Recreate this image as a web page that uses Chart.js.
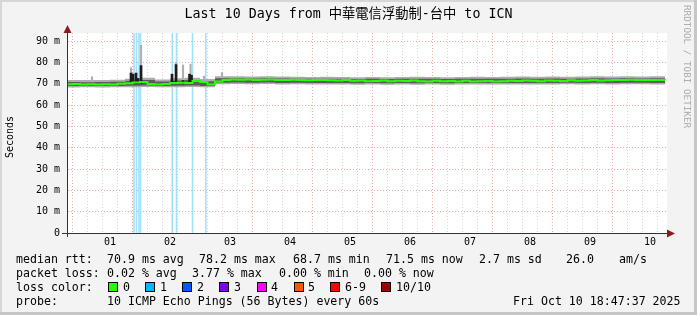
<!DOCTYPE html>
<html>
<head>
<meta charset="utf-8">
<script src="https://cdn.jsdelivr.net/npm/chart.js@4.4.1/dist/chart.umd.min.js"></script>
<style>
  body { margin: 0; background: #fff; }
  #wrap { position: relative; width: 697px; height: 315px; background: #f3f3f3; overflow: hidden;
          font-family: 'DejaVu Sans Mono', 'Noto Sans CJK TC', monospace; color: #000; }
  #wrap canvas { position: absolute; left: 0; top: 0; }
  .t { position: absolute; white-space: pre; font-size: 11.6px; line-height: 14px; }
  .box { position: absolute; width: 8px; height: 8px; border: 1px solid #000; top: 282px; }
  #title { position: absolute; left: 0; top: 5px; width: 697px; text-align: center; font-size: 13.3px; line-height: 18px; white-space: pre; }
  #ylab { position: absolute; left: 3px; top: 137px; font-size: 10px; line-height: 14px; transform-origin: 0 0; transform: rotate(-90deg) translate(-50%, 0); white-space: pre; }
  #wm { position: absolute; left: 692px; top: 5px; font-size: 9.3px; line-height: 10px; color: #ababab; transform-origin: 0 0; transform: rotate(90deg); white-space: pre; }
  .edgeR { position: absolute; right: 0; top: 0; width: 3px; height: 315px; background: #c6c6c6; }
  .edgeB { position: absolute; left: 0; bottom: 0; width: 697px; height: 3px; background: #c6c6c6; }
  .edgeL { position: absolute; left: 0; top: 0; width: 2px; height: 315px; background: #d6d6d6; }
  .edgeT { position: absolute; left: 0; top: 0; width: 697px; height: 2px; background: #d6d6d6; }
</style>
</head>
<body>
<div id="wrap">
  <canvas id="chart" width="697" height="315"></canvas>
  <div id="title">Last 10 Days from 中華電信浮動制-台中 to ICN</div>
  <div id="ylab">Seconds</div>
  <div id="wm">RRDTOOL / TOBI OETIKER</div>
  <div id="footer"></div>
  <div class="edgeL"></div><div class="edgeT"></div><div class="edgeR"></div><div class="edgeB"></div>
</div>
<script>
// time axis in hours from Oct 1 00:00, graph ends Fri Oct 10 18:47:37
const X_MAX = 234.79;
const X_MIN = X_MAX - 240;
const dayLabels = ['01', '02', '03', '04', '05', '06', '07', '08', '09', '10'];
const yMax = 93.8;

// median rtt (ms), one value every 3 hours starting at -6h
const medianStart = -6, medianStep = 3;
const medianRtt = [
  69.8, 69.9, 69.7, 69.8, 69.6, 69.8, 69.7, 70.0, 70.2, 70.6,
  70.8, 69.9, 69.7, 69.9, 70.3, 70.5, 70.4, 71.3, 70.8, 69.6,
  71.0, 71.8, 72.0, 71.9, 72.0, 71.8, 71.9, 72.0, 71.8, 71.7,
  71.9, 71.8, 71.6, 71.7, 71.8, 71.6, 71.5, 71.7, 71.4, 71.5,
  71.2, 71.3, 71.5, 71.2, 71.4, 71.3, 71.5, 71.2, 71.1, 71.4,
  71.2, 71.3, 71.1, 71.4, 71.0, 71.2, 71.3, 71.1, 71.2, 71.4,
  71.3, 71.5, 71.4, 71.2, 71.5, 71.4, 71.3, 71.6, 71.4, 71.5,
  71.7, 71.5, 71.6, 71.8, 71.7, 71.9, 71.7, 71.8, 71.7, 71.8,
  71.7
];

// smoke bands (ms), one value every 6 hours starting at -6h
const bandStart = -6, bandStep = 6;
const smokeOuterLo = [
  68.2, 68.3, 68.2, 68.3, 68.4, 68.5, 68.3, 68.4, 68.5, 68.3,
  69.8, 69.9, 69.8, 69.9, 69.7, 69.8, 69.6, 69.7, 69.6, 69.5,
  69.6, 69.5, 69.6, 69.5, 69.6, 69.5, 69.6, 69.7, 69.6, 69.6,
  69.7, 69.6, 69.7, 69.8, 69.7, 69.8, 69.7, 69.8, 69.8, 69.7,
  69.8
];
const smokeOuterHi = [
  71.8, 71.7, 71.8, 71.9, 72.4, 72.8, 72.0, 72.6, 72.8, 72.2,
  73.5, 73.5, 73.4, 73.5, 73.4, 73.3, 73.2, 73.3, 73.2, 73.1,
  73.2, 73.1, 73.2, 73.3, 73.2, 73.1, 73.2, 73.3, 73.2, 73.3,
  73.4, 73.3, 73.4, 73.3, 73.4, 73.5, 73.4, 73.5, 73.4, 73.5,
  73.4
];
const smokeInnerLo = [
  68.9, 69.0, 68.9, 69.0, 69.1, 69.2, 69.0, 69.1, 69.2, 69.0,
  70.5, 70.6, 70.5, 70.6, 70.4, 70.5, 70.3, 70.4, 70.3, 70.2,
  70.3, 70.2, 70.3, 70.2, 70.3, 70.2, 70.3, 70.4, 70.3, 70.3,
  70.4, 70.3, 70.4, 70.5, 70.4, 70.5, 70.4, 70.5, 70.5, 70.4,
  70.5
];
const smokeInnerHi = [
  70.8, 70.7, 70.8, 70.9, 71.4, 71.7, 71.0, 71.5, 71.8, 71.2,
  72.6, 72.6, 72.5, 72.6, 72.5, 72.4, 72.3, 72.4, 72.3, 72.2,
  72.3, 72.2, 72.3, 72.4, 72.3, 72.2, 72.3, 72.4, 72.3, 72.4,
  72.5, 72.4, 72.5, 72.4, 72.5, 72.6, 72.5, 72.6, 72.5, 72.6,
  72.5
];

// dark rtt spikes (hour, top ms) and lighter outer pings
const spikeHours = [20.4, 21.2, 22.4, 23.2, 24.4, 36.8, 38.4, 41.2, 43.8, 44.6];
const spikeTop   = [75.0, 74.5, 75.0, 72.5, 78.5, 74.5, 79.0, 71.5, 74.5, 74.0];
const hazeHours  = [4.8, 20.4, 24.4, 38.4, 41.2, 44.2, 49.6, 56.8];
const hazeTop    = [73.3, 77.5, 88.0, 80.0, 78.8, 79.2, 73.6, 75.3];

// hours with packet loss (1 of 10)
const lossHours = [21.6, 22.6, 23.6, 24.2, 36.9, 38.6, 45.0, 50.3];

const monoFont = "'DejaVu Sans Mono', monospace";

function series(start, step, values) {
  return values.map((v, i) => ({ x: start + i * step, y: v }));
}

const gridHours = [];
for (let h = 0; h <= X_MAX; h += 6) gridHours.push(h);

const plotFrame = {
  id: 'plotFrame',
  beforeDraw(c) {
    const a = c.chartArea, g = c.ctx;
    g.save();
    g.fillStyle = '#ffffff';
    g.fillRect(a.left, a.top, a.right - a.left, a.bottom - a.top);
    g.restore();
  },
  afterDraw(c) {
    const a = c.chartArea, g = c.ctx;
    g.save();
    g.strokeStyle = '#333';
    g.lineWidth = 1;
    g.beginPath();
    g.moveTo(a.left + 0.5, a.top - 6);
    g.lineTo(a.left + 0.5, a.bottom + 4);
    g.moveTo(a.left - 5, a.bottom + 0.5);
    g.lineTo(a.right + 6, a.bottom + 0.5);
    g.stroke();
    g.fillStyle = '#8e1b1b';
    g.beginPath();
    g.moveTo(a.left + 0.5, a.top - 8);
    g.lineTo(a.left - 3.5, a.top);
    g.lineTo(a.left + 4.5, a.top);
    g.closePath();
    g.fill();
    g.beginPath();
    g.moveTo(a.right + 8, a.bottom + 0.5);
    g.lineTo(a.right, a.bottom - 3.5);
    g.lineTo(a.right, a.bottom + 4.5);
    g.closePath();
    g.fill();
    g.restore();
  }
};

new Chart(document.getElementById('chart'), {
  type: 'line',
  data: {
    datasets: [
      { type: 'bar', data: lossHours.map(h => ({ x: h, y: [0, yMax] })), backgroundColor: '#a4e1fb',
        barThickness: 1, grouped: false, order: 6 },
      { data: series(bandStart, bandStep, smokeOuterLo), borderWidth: 0, pointRadius: 0, stepped: true, order: 5 },
      { data: series(bandStart, bandStep, smokeOuterHi), borderWidth: 0, pointRadius: 0, stepped: true,
        fill: { target: 1 }, backgroundColor: '#acacac', order: 5 },
      { type: 'bar', data: hazeHours.map((h, i) => ({ x: h, y: [70, hazeTop[i]] })), backgroundColor: '#b0b0b0',
        barThickness: 1.5, grouped: false, order: 4 },
      { data: series(bandStart, bandStep, smokeInnerLo), borderWidth: 0, pointRadius: 0, stepped: true, order: 3 },
      { data: series(bandStart, bandStep, smokeInnerHi), borderWidth: 0, pointRadius: 0, stepped: true,
        fill: { target: 4 }, backgroundColor: '#5c5c5c', order: 3 },
      { type: 'bar', data: spikeHours.map((h, i) => ({ x: h, y: [70, spikeTop[i]] })), backgroundColor: '#1c1c1c',
        barThickness: 2, grouped: false, order: 2 },
      { data: series(medianStart, medianStep, medianRtt), borderColor: '#26ff00', borderWidth: 2,
        pointRadius: 0, stepped: true, order: 1 }
    ]
  },
  options: {
    responsive: false,
    animation: false,
    devicePixelRatio: 1,
    layout: { padding: { top: 33, right: 30, left: 0, bottom: 0 } },
    plugins: { legend: { display: false }, tooltip: { enabled: false }, title: { display: false } },
    scales: {
      x: {
        type: 'linear', min: X_MIN, max: X_MAX, offset: false,
        afterFit: s => { s.height = 82; },
        afterBuildTicks: s => { s.ticks = gridHours.map(v => ({ value: v })); },
        ticks: {
          autoSkip: false, maxRotation: 0, padding: 3, color: '#000',
          font: { family: monoFont, size: 10 },
          callback: v => (v % 24 === 12 ? dayLabels[(v - 12) / 24] : '')
        },
        grid: { drawTicks: false, color: c => (c.tick && c.tick.value % 24 === 0 ? '#efa8a8' : '#d4d4d4') },
        border: { color: '#333', dash: [1, 2] }
      },
      y: {
        min: 0, max: yMax,
        afterFit: s => { s.width = 67; },
        afterBuildTicks: s => {
          const t = [];
          for (let v = 0; v <= 90; v += 5) t.push({ value: v });
          s.ticks = t;
        },
        ticks: {
          padding: 7, color: '#000', font: { family: monoFont, size: 10 },
          callback: v => (v % 10 !== 0 ? '' : v === 0 ? '0' : v + ' m')
        },
        grid: { drawTicks: false, color: c => (c.tick && c.tick.value % 10 === 0 ? '#efa8a8' : '#d4d4d4') },
        border: { color: '#333', dash: [1, 2] }
      }
    }
  },
  plugins: [plotFrame]
});

// footer legend, as rrdtool prints it
const footer = document.getElementById('footer');
const footerRows = [
  [252, [[16, 'median rtt:'], [107, '70.9 ms avg'], [199, '78.2 ms max'], [293, '68.7 ms min'],
         [386, '71.5 ms now'], [479, '2.7 ms sd'], [566, '26.0'], [619, 'am/s']]],
  [266, [[16, 'packet loss:'], [107, '0.02 % avg'], [192, '3.77 % max'], [279, '0.00 % min'], [364, '0.00 % now']]],
  [280, [[16, 'loss color:']]],
  [294, [[16, 'probe:'], [107, '10 ICMP Echo Pings (56 Bytes) every 60s'], [513, 'Fri Oct 10 18:47:37 2025']]]
];
const lossNames  = ['0', '1', '2', '3', '4', '5', '6-9', '10/10'];
const lossColors = ['#26ff00', '#00b8ff', '#0059ff', '#7e00ff', '#ff00ff', '#ff5500', '#ff0000', '#a10000'];
const lossBoxX   = [108, 145, 182, 219, 257, 294, 330, 381];
const lossTextX  = [123, 160, 197, 234, 271, 308, 345, 396];

footerRows.forEach(([top, items]) => {
  items.forEach(([left, text]) => {
    const d = document.createElement('div');
    d.className = 't';
    d.style.left = left + 'px';
    d.style.top = top + 'px';
    d.textContent = text;
    footer.appendChild(d);
  });
});
lossNames.forEach((name, i) => {
  const b = document.createElement('div');
  b.className = 'box';
  b.style.left = lossBoxX[i] + 'px';
  b.style.background = lossColors[i];
  footer.appendChild(b);
  const d = document.createElement('div');
  d.className = 't';
  d.style.left = lossTextX[i] + 'px';
  d.style.top = '280px';
  d.textContent = name;
  footer.appendChild(d);
});
</script>
</body>
</html>
